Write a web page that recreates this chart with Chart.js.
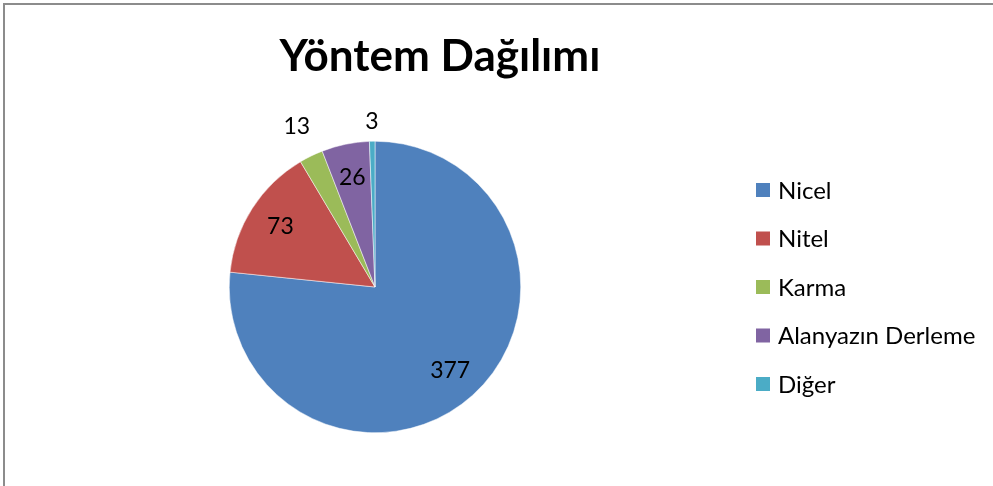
<!DOCTYPE html>
<html>
<head>
<meta charset="utf-8">
<script src="https://cdn.jsdelivr.net/npm/chart.js@4"></script>
<style>
  html, body { margin: 0; padding: 0; background: #fff; }
  #wrap { width: 993px; height: 486px; position: relative; }
</style>
</head>
<body>
<div id="wrap"><canvas id="pie"></canvas></div>
<script>
// veri
var baslik = 'Yöntem Dağılımı';
var kategoriler = ['Nicel', 'Nitel', 'Karma', 'Alanyazın Derleme', 'Diğer'];
var degerler = [377, 73, 13, 26, 3];
var renkler = ['#4F81BD', '#C0504D', '#9BBB59', '#8064A2', '#4BACC6'];

var yazi = 'Lato, "Open Sans", sans-serif';

// cerceve, baslik, etiketler ve lejant
var ciz = {
    id: 'ciz',
    afterDraw: function(chart) {
        var ctx = chart.ctx;
        ctx.save();

        // cerceve (sol ve ust)
        ctx.strokeStyle = '#8c8c8c';
        ctx.lineWidth = 2;
        ctx.beginPath();
        ctx.moveTo(4, 486);
        ctx.lineTo(4, 4);
        ctx.lineTo(1000, 4);
        ctx.stroke();

        // baslik
        ctx.fillStyle = '#000';
        ctx.font = 'bold 44px ' + yazi;
        ctx.textAlign = 'center';
        ctx.textBaseline = 'alphabetic';
        ctx.fillText(baslik, 440, 71);

        // dilim etiketleri
        var toplam = degerler.reduce(function(a, b) { return a + b; }, 0);
        var meta = chart.getDatasetMeta(0);
        ctx.font = '23px ' + yazi;
        ctx.textBaseline = 'middle';
        meta.data.forEach(function(arc, i) {
            var aci = (arc.startAngle + arc.endAngle) / 2;
            var metin = String(degerler[i]);
            var w = ctx.measureText(metin).width;
            var r;
            if (degerler[i] / toplam < 0.04) {
                r = arc.outerRadius + 6 + w;
            } else {
                r = arc.outerRadius * 0.77;
            }
            var x = arc.x + Math.cos(aci) * r;
            var y = arc.y + Math.sin(aci) * r;
            ctx.fillText(metin, x, y);
        });

        // lejant
        ctx.textAlign = 'left';
        ctx.font = '24px ' + yazi;
        kategoriler.forEach(function(k, i) {
            var yMerkez = 190 + i * 48.5;
            ctx.fillStyle = renkler[i];
            ctx.fillRect(756, yMerkez - 7, 14, 14);
            ctx.fillStyle = '#000';
            ctx.fillText(k, 778, yMerkez + 1);
        });

        ctx.restore();
    }
};

const config = {
    type: 'pie',
    data: {
        labels: kategoriler,
        datasets: [{
            data: degerler,
            backgroundColor: renkler,
            borderColor: '#ffffff',
            borderWidth: 0.5
        }]
    },
    options: {
        responsive: true,
        maintainAspectRatio: false,
        animation: false,
        layout: {
            padding: { top: 141, bottom: 53, left: 229, right: 472 }
        },
        plugins: {
            legend: { display: false },
            tooltip: { enabled: false }
        }
    },
    plugins: [ciz]
};

const myChart = new Chart(
    document.getElementById('pie'),
    config
);
</script>
</body>
</html>
